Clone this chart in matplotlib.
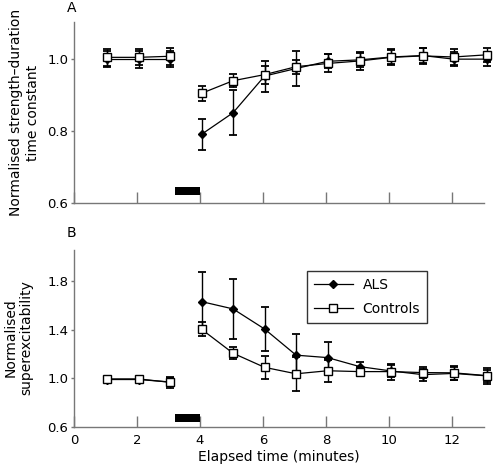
import numpy as np
import matplotlib
matplotlib.use("Agg")
import matplotlib.pyplot as plt

plt.rcParams['font.family'] = ['DejaVu Sans']

# elapsed time (minutes) of each recording
t = [1.05, 2.05, 3.05, 4.05, 5.05, 6.05, 7.05, 8.05, 9.07, 10.07, 11.07, 12.05, 13.1]

# A: normalised strength-duration time constant
tau_als = [1.0, 1.0, 1.0, 0.791, 0.851, 0.953, 0.974, 0.994, 0.998, 1.006, 1.010, 1.0, 1.0]
tau_als_err = [0.022, 0.024, 0.023, 0.044, 0.062, 0.043, 0.048, 0.02, 0.02, 0.02, 0.02, 0.02, 0.02]
tau_ctrl = [1.005, 1.005, 1.008, 0.905, 0.940, 0.957, 0.979, 0.988, 0.995, 1.005, 1.009, 1.006, 1.012]
tau_ctrl_err = [0.023, 0.022, 0.023, 0.02, 0.018, 0.025, 0.02, 0.025, 0.025, 0.022, 0.022, 0.021, 0.02]

# B: normalised superexcitability
se_als = [0.99, 0.99, 0.97, 1.63, 1.57, 1.405, 1.19, 1.17, 1.096, 1.06, 1.03, 1.04, 1.02]
se_als_err = [0.01, 0.01, 0.03, 0.24, 0.245, 0.177, 0.17, 0.125, 0.04, 0.05, 0.05, 0.05, 0.05]
se_ctrl = [0.995, 0.995, 0.967, 1.403, 1.206, 1.090, 1.037, 1.062, 1.055, 1.055, 1.047, 1.045, 1.022]
se_ctrl_err = [0.01, 0.01, 0.045, 0.056, 0.05, 0.095, 0.14, 0.09, 0.04, 0.065, 0.047, 0.06, 0.065]

# ischaemia period (black bar)
isch_start, isch_end = 3.2, 4.0

xticks = [0, 2, 4, 6, 8, 10, 12]
axcol = '#777777'

fig = plt.figure(figsize=(4.96, 4.70), dpi=100)
axA = fig.add_axes([0.149, 0.568, 0.826, 0.385])
axB = fig.add_axes([0.149, 0.0915, 0.826, 0.3766])

def draw(ax, als, als_err, ctrl, ctrl_err):
    x = np.array(t)
    handles = []
    # pre and post ischaemia drawn as separate segments
    for seg in (slice(0, 3), slice(3, None)):
        for y, e, mk, ms, fc in ((als, als_err, 'D', 4.2, 'black'),
                                 (ctrl, ctrl_err, 's', 5.8, 'white')):
            y = np.array(y); e = np.array(e)
            ax.errorbar(x[seg], y[seg], yerr=e[seg], fmt='none', ecolor='black',
                        elinewidth=1.0, capsize=3, capthick=1.3, clip_on=False, zorder=3)
            h, = ax.plot(x[seg], y[seg], color='black', lw=0.9, marker=mk, ms=ms,
                         mfc=fc, mec='black', mew=1.0, clip_on=False, zorder=4)
            if seg.start == 3:
                handles.append(h)
    return handles

draw(axA, tau_als, tau_als_err, tau_ctrl, tau_ctrl_err)
hB = draw(axB, se_als, se_als_err, se_ctrl, se_ctrl_err)

axA.set_ylim(0.6, 1.103)
axA.set_yticks([0.6, 0.8, 1.0])
axA.set_yticklabels(['0.6', '0.8', '1.0'])
axB.set_ylim(0.6, 2.054)
axB.set_yticks([0.6, 1.0, 1.4, 1.8])
axB.set_yticklabels(['0.6', '1.0', '1.4', '1.8'])

for ax, bar in ((axA, (0.622, 0.644)), (axB, (0.638, 0.707))):
    ax.set_xlim(0, 13)
    ax.set_xticks(xticks)
    ax.fill_between([isch_start, isch_end], bar[0], bar[1], color='black', lw=0, zorder=5)
    for s in ('top', 'right'):
        ax.spines[s].set_visible(False)
    for s in ('left', 'bottom'):
        ax.spines[s].set_color(axcol)
        ax.spines[s].set_linewidth(1.0)
    ax.tick_params(axis='x', direction='in', length=8, width=1, color=axcol,
                   labelsize=9.5, pad=5)
    ax.tick_params(axis='y', direction='out', length=2.5, width=1, color=axcol,
                   labelsize=9.5, pad=1.5)

axA.tick_params(axis='x', labelbottom=False)
axB.set_xlabel('Elapsed time (minutes)', fontsize=10, labelpad=2)

fig.text(0.05, 0.76, 'Normalised strength\u2013duration\ntime constant', rotation=90,
         ha='center', va='center', fontsize=10, multialignment='center', linespacing=1.3)
fig.text(0.037, 0.281, 'Normalised\nsuperexcitability', rotation=90,
         ha='center', va='center', fontsize=10, multialignment='center', linespacing=1.15)

fig.text(0.145, 0.983, 'A', ha='center', va='center', fontsize=10)
fig.text(0.145, 0.504, 'B', ha='center', va='center', fontsize=10)

leg = axB.legend(hB, ['ALS', 'Controls'], loc='upper left', bbox_to_anchor=(0.569, 0.881),
                 frameon=True, fancybox=False, fontsize=10, handlelength=2.8,
                 borderpad=0.5, labelspacing=0.7, handletextpad=0.7, borderaxespad=0)
leg.get_frame().set_edgecolor('black')
leg.get_frame().set_linewidth(1.0)

fig.savefig('out.png', dpi=100)
